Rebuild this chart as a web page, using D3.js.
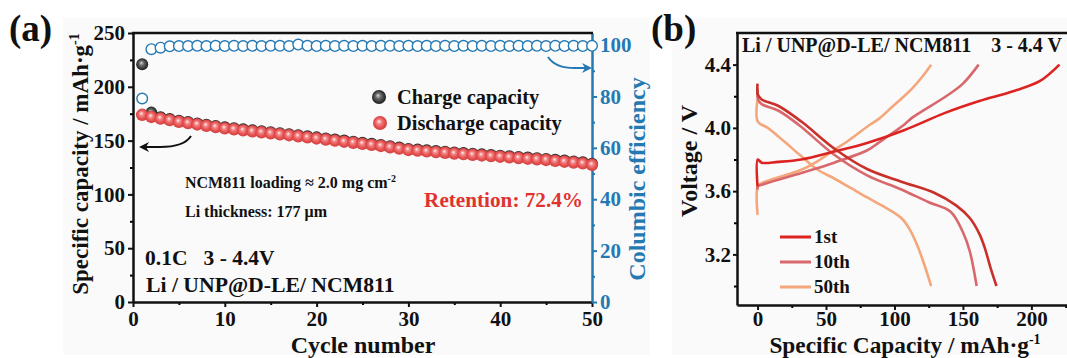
<!DOCTYPE html>
<html>
<head>
<meta charset="utf-8">
<script src="https://cdn.jsdelivr.net/npm/d3@7"></script>
<style>
    body { margin: 0; background: #fff; }
    text { font-family: "Liberation Serif", "Times New Roman", serif; font-weight: bold; }
</style>
</head>
<body>
<div id="chart"></div>
<script>
// ---- panel (a): cycling data ----
var cycles = d3.range(1, 51);
var dischargeCap = [174, 172, 170.5, 169, 167.5, 166.3, 165, 163.8, 162.6, 161.4,
    160.5, 159.5, 158.6, 157.7, 156.8, 155.9, 155, 154, 153, 152,
    151, 150, 149, 148, 147, 146, 145, 143.8, 142.5, 141.3,
    140.7, 140, 139.3, 138.7, 138, 137.4, 136.8, 136.2, 135.6, 135,
    134.4, 133.8, 133.2, 132.6, 132, 131.2, 130.4, 129.6, 128.8, 127.5];
var chargeCap = [221, 176, 171.6, 170, 168.5, 167.3, 166, 164.8, 163.6, 162.4,
    161.5, 160.5, 159.6, 158.7, 157.8, 156.9, 156, 155, 154, 153,
    152, 151, 150, 149, 148, 147, 146, 144.8, 143.5, 142.3,
    141.7, 141, 140.3, 139.7, 139, 138.4, 137.8, 137.2, 136.6, 136,
    135.4, 134.8, 134.2, 133.6, 133, 132.2, 131.4, 130.6, 129.8, 128.5];
var efficiency = [79.2, 98.4, 99.0, 99.5, 99.6, 99.6, 99.7, 99.6, 99.7, 99.6,
    99.7, 99.6, 99.7, 99.6, 99.7, 99.7, 99.6, 100.2, 99.7, 99.6,
    99.7, 99.6, 99.7, 99.6, 99.7, 99.6, 99.7, 99.7, 99.6, 99.7,
    99.6, 99.7, 99.6, 99.7, 99.6, 99.7, 99.6, 99.7, 99.6, 99.7,
    99.6, 99.7, 99.6, 99.7, 99.6, 99.7, 99.6, 99.7, 99.6, 99.7];

// ---- panel (b): voltage profiles ----
var cap1Charge = [0, 0.2, 3, 15, 32, 56, 80, 107, 137, 162, 186, 206, 220.5];
var volt1Charge = [3.63, 3.80, 3.78, 3.785, 3.80, 3.85, 3.905, 3.985, 4.095, 4.17, 4.23, 4.295, 4.40];
var cap1Dis = [0, 0.3, 3, 15, 32, 56, 80, 105, 129, 145, 155, 162, 166, 170, 174.5];
var volt1Dis = [4.28, 4.21, 4.18, 4.14, 4.04, 3.87, 3.74, 3.66, 3.59, 3.51, 3.43, 3.33, 3.24, 3.12, 3.0];
var cap10Charge = [0, 0.2, 3, 32, 56, 80.5, 89, 107, 113, 137.7, 150, 161.5];
var volt10Charge = [3.61, 3.63, 3.64, 3.715, 3.78, 3.86, 3.91, 4.02, 4.065, 4.2, 4.28, 4.40];
var cap10Dis = [0, 0.3, 3, 15, 30, 56, 80, 105, 125, 141, 150, 155, 160];
var volt10Dis = [4.25, 4.18, 4.15, 4.11, 4.02, 3.83, 3.70, 3.61, 3.53, 3.47, 3.34, 3.22, 3.0];
var cap50Charge = [0, 0.2, 3, 20, 32, 44, 56, 68, 80.5, 89, 98, 107, 113, 120, 126.8];
var volt50Charge = [3.45, 3.63, 3.65, 3.70, 3.735, 3.79, 3.86, 3.93, 4.01, 4.06, 4.13, 4.20, 4.25, 4.32, 4.40];
var cap50Dis = [0, 0.2, 7.5, 20, 32, 44, 56, 68, 80, 92.7, 105, 111, 117, 122, 126.8];
var volt50Dis = [4.18, 4.04, 4.0, 3.91, 3.82, 3.735, 3.68, 3.62, 3.56, 3.50, 3.43, 3.36, 3.25, 3.13, 3.0];
var cycleLabels = ["1st", "10th", "50th"];
var cycleColors = ["#dc2320", "#d9686c", "#f5a77c"];
var dischargeColors = ["#c9302a", "#d9686c", "#f5a77c"];

var blue = "#2579b3";
var red = "#e0322f";

var svg = d3.select("#chart").append("svg")
    .attr("width", 1067)
    .attr("height", 358);

var defs = svg.append("defs");

function sphereGradient(id, stops) {
    var g = defs.append("radialGradient").attr("id", id)
        .attr("cx", "50%").attr("cy", "50%").attr("r", "55%")
        .attr("fx", "42%").attr("fy", "38%");
    stops.forEach(function (s) {
        g.append("stop").attr("offset", s[0]).attr("stop-color", s[1]);
    });
}
sphereGradient("redBall", [["0%", "#fff2f2"], ["30%", "#f28585"], ["65%", "#e65050"], ["100%", "#cc3b3b"]]);
sphereGradient("blackBall", [["0%", "#d8d8d8"], ["35%", "#6a6a6a"], ["75%", "#333"], ["100%", "#111"]]);

function arrowMarker(id, color) {
    defs.append("marker").attr("id", id)
        .attr("viewBox", "0 0 10 10").attr("refX", 8).attr("refY", 5)
        .attr("markerWidth", 5).attr("markerHeight", 5)
        .attr("orient", "auto-start-reverse")
        .append("path").attr("d", "M0,0 L10,5 L0,10 L3,5 Z").attr("fill", color);
}
arrowMarker("arrowBlack", "#111");
arrowMarker("arrowBlue", blue);

// faint figure backgrounds
svg.append("rect").attr("x", 63).attr("y", 18).attr("width", 587).attr("height", 337).attr("fill", "#fafafa");
svg.append("rect").attr("x", 672).attr("y", 18).attr("width", 395).attr("height", 337).attr("fill", "#fafafa");

function styleAxis(g, color, size) {
    g.selectAll("text").attr("fill", color).style("font-size", size + "px").style("font-weight", "bold")
        .style("font-family", "'Liberation Serif', serif");
    g.selectAll("line").attr("stroke", color).attr("stroke-width", 2);
    g.select(".domain").attr("stroke", color).attr("stroke-width", 2.5);
}

// ================= panel (a) =================
var xA = d3.scaleLinear().domain([0, 50]).range([133, 592]);
var yA = d3.scaleLinear().domain([0, 250]).range([302, 33]);
var yA2 = d3.scaleLinear().domain([0, 104.7]).range([302, 33]);

var minorA = svg.append("g").attr("transform", "translate(0,302)")
    .call(d3.axisBottom(xA).tickValues([5, 15, 25, 35, 45]).tickSize(3).tickFormat(""));
minorA.select(".domain").remove();
minorA.selectAll("line").attr("stroke-width", 2);
var minorAy = svg.append("g").attr("transform", "translate(133,0)")
    .call(d3.axisLeft(yA).tickValues([25, 75, 125, 175, 225]).tickSize(3).tickFormat(""));
minorAy.select(".domain").remove();
minorAy.selectAll("line").attr("stroke-width", 2);
var minorAy2 = svg.append("g").attr("transform", "translate(592,0)")
    .call(d3.axisRight(yA2).tickValues([10, 30, 50, 70, 90]).tickSize(3).tickFormat(""));
minorAy2.select(".domain").remove();
minorAy2.selectAll("line").attr("stroke", blue).attr("stroke-width", 2);

svg.append("g").attr("transform", "translate(0,302)")
    .call(d3.axisBottom(xA).tickValues([0, 10, 20, 30, 40, 50]).tickSize(5).tickPadding(4).tickSizeOuter(0))
    .call(styleAxis, "#111", 21);
svg.append("g").attr("transform", "translate(133,0)")
    .call(d3.axisLeft(yA).tickValues([0, 50, 100, 150, 200, 250]).tickSize(5).tickPadding(3).tickSizeOuter(0))
    .call(styleAxis, "#111", 21);
svg.append("g").attr("transform", "translate(592,0)")
    .call(d3.axisRight(yA2).tickValues([0, 20, 40, 60, 80, 100]).tickSize(5).tickPadding(3).tickSizeOuter(0))
    .call(styleAxis, blue, 21);
svg.append("line").attr("x1", 132).attr("x2", 593).attr("y1", 33).attr("y2", 33)
    .attr("stroke", "#111").attr("stroke-width", 2.5);

// efficiency (open circles)
svg.append("g").selectAll("circle")
    .data(cycles)
    .enter().append("circle")
    .attr("cx", d => xA(d))
    .attr("cy", (d, i) => yA2(efficiency[i]))
    .attr("r", 5.3)
    .attr("fill", "#fff")
    .attr("stroke", blue)
    .attr("stroke-width", 1.4);

svg.append("g").selectAll("circle")
    .data(cycles)
    .enter().append("circle")
    .attr("cx", d => xA(d))
    .attr("cy", (d, i) => yA(chargeCap[i]))
    .attr("r", 6)
    .attr("fill", "url(#blackBall)");

svg.append("g").selectAll("circle")
    .data(cycles)
    .enter().append("circle")
    .attr("cx", d => xA(d))
    .attr("cy", (d, i) => yA(dischargeCap[i]))
    .attr("r", 6.2)
    .attr("fill", "url(#redBall)");

// legend (a)
svg.append("circle").attr("cx", 379).attr("cy", 97).attr("r", 7).attr("fill", "url(#blackBall)");
svg.append("circle").attr("cx", 380).attr("cy", 123).attr("r", 7).attr("fill", "url(#redBall)");
svg.append("text").attr("x", 397).attr("y", 104).style("font-size", "20.4px").attr("fill", "#111").text("Charge capacity");
svg.append("text").attr("x", 397).attr("y", 130).style("font-size", "20.4px").attr("fill", "#111").text("Discharge capacity");

// arrows
svg.append("path").attr("d", "M191,136 Q184,147 160,147 L141,147")
    .attr("fill", "none").attr("stroke", "#111").attr("stroke-width", 2)
    .attr("marker-end", "url(#arrowBlack)");
svg.append("path").attr("d", "M548,57 Q556,69 578,68 L590,68")
    .attr("fill", "none").attr("stroke", blue).attr("stroke-width", 2)
    .attr("marker-end", "url(#arrowBlue)");

// notes (a)
var note1 = svg.append("text").attr("x", 185).attr("y", 188).style("font-size", "16px").attr("fill", "#111");
note1.append("tspan").text("NCM811 loading \u2248 2.0 mg cm");
note1.append("tspan").attr("dy", -6).style("font-size", "10px").text("-2");
svg.append("text").attr("x", 185).attr("y", 217).style("font-size", "16px").attr("fill", "#111")
    .text("Li thickness: 177 \u03bcm");
svg.append("text").attr("x", 145).attr("y", 265).style("font-size", "21.5px").attr("fill", "#111")
    .attr("xml:space", "preserve").text("0.1C   3 - 4.4V");
svg.append("text").attr("x", 146).attr("y", 292).style("font-size", "21.7px").attr("fill", "#111")
    .text("Li / UNP@D-LE/ NCM811");
svg.append("text").attr("x", 583).attr("y", 207).attr("text-anchor", "end").style("font-size", "21.2px").attr("fill", red)
    .text("Retention: 72.4%");

// axis titles (a)
svg.append("text").attr("x", 363).attr("y", 353).attr("text-anchor", "middle").style("font-size", "24px").attr("fill", "#111")
    .text("Cycle number");
var yTitle = svg.append("text").attr("transform", "translate(88,164) rotate(-90)")
    .attr("text-anchor", "middle").style("font-size", "23px").attr("fill", "#111");
yTitle.append("tspan").text("Specific capacity / mAh\u00b7g");
yTitle.append("tspan").attr("dy", -9).style("font-size", "14px").text("-1");
svg.append("text").attr("transform", "translate(645,179) rotate(-90)")
    .attr("text-anchor", "middle").style("font-size", "24px").attr("fill", blue)
    .text("Columbic efficiency");
svg.append("text").attr("x", 9).attr("y", 41).style("font-size", "37px").attr("fill", "#111").text("(a)");

// ================= panel (b) =================
var xB = d3.scaleLinear().domain([-15, 226]).range([737, 1067]);
var yB = d3.scaleLinear().domain([2.88, 4.6]).range([305, 33]);

var minorBx = svg.append("g").attr("transform", "translate(0,305)")
    .call(d3.axisBottom(xB).tickValues([25, 75, 125, 175, 225]).tickSize(3).tickFormat(""));
minorBx.select(".domain").remove();
minorBx.selectAll("line").attr("stroke-width", 2);
var minorBy = svg.append("g").attr("transform", "translate(737,0)")
    .call(d3.axisLeft(yB).tickValues([3.0, 3.4, 3.8, 4.2]).tickSize(3).tickFormat(""));
minorBy.select(".domain").remove();
minorBy.selectAll("line").attr("stroke-width", 2);

svg.append("g").attr("transform", "translate(0,305)")
    .call(d3.axisBottom(xB).tickValues([0, 50, 100, 150, 200]).tickSize(5).tickPadding(1).tickSizeOuter(0))
    .call(styleAxis, "#111", 21);
svg.append("g").attr("transform", "translate(737,0)")
    .call(d3.axisLeft(yB).tickValues([3.2, 3.6, 4.0, 4.4]).tickSize(4).tickPadding(2).tickSizeOuter(0)
        .tickFormat(d3.format(".1f")))
    .call(styleAxis, "#111", 21);
svg.append("line").attr("x1", 736).attr("x2", 1067).attr("y1", 33).attr("y2", 33)
    .attr("stroke", "#111").attr("stroke-width", 2.5);

var line = d3.line()
    .x(d => xB(d[0]))
    .y(d => yB(d[1]))
    .curve(d3.curveCatmullRom.alpha(0.5));

var profiles = [
    { caps: cap50Charge, volts: volt50Charge, color: cycleColors[2] },
    { caps: cap50Dis, volts: volt50Dis, color: dischargeColors[2] },
    { caps: cap10Charge, volts: volt10Charge, color: cycleColors[1] },
    { caps: cap10Dis, volts: volt10Dis, color: dischargeColors[1] },
    { caps: cap1Charge, volts: volt1Charge, color: cycleColors[0] },
    { caps: cap1Dis, volts: volt1Dis, color: dischargeColors[0] }
];

svg.append("g").selectAll("path")
    .data(profiles)
    .enter().append("path")
    .attr("d", p => line(p.caps.map((c, i) => [c, p.volts[i]])))
    .attr("fill", "none")
    .attr("stroke", p => p.color)
    .attr("stroke-width", 2.6)
    .attr("stroke-linejoin", "round");

// legend (b)
var legB = svg.append("g").selectAll("g")
    .data(cycleLabels)
    .enter().append("g")
    .attr("transform", (d, i) => "translate(780," + (237 + i * 25) + ")");
legB.append("line").attr("x1", 0).attr("x2", 31).attr("y1", 0).attr("y2", 0)
    .attr("stroke", (d, i) => cycleColors[i]).attr("stroke-width", 3);
legB.append("text").attr("x", 34).attr("y", 6).style("font-size", "19px").attr("fill", "#111").text(d => d);

svg.append("text").attr("x", 742).attr("y", 52).style("font-size", "20px").attr("fill", "#111")
    .attr("xml:space", "preserve").text("Li / UNP@D-LE/ NCM811    3 - 4.4 V");
var xTitleB = svg.append("text").attr("x", 905).attr("y", 353).attr("text-anchor", "middle")
    .style("font-size", "23.3px").attr("fill", "#111");
xTitleB.append("tspan").text("Specific Capacity / mAh\u00b7g");
xTitleB.append("tspan").attr("dy", -9).style("font-size", "14px").text("-1");
svg.append("text").attr("transform", "translate(697,161) rotate(-90)")
    .attr("text-anchor", "middle").style("font-size", "24px").attr("fill", "#111")
    .text("Voltage / V");
svg.append("text").attr("x", 651).attr("y", 41).style("font-size", "37px").attr("fill", "#111").text("(b)");
</script>
</body>
</html>
